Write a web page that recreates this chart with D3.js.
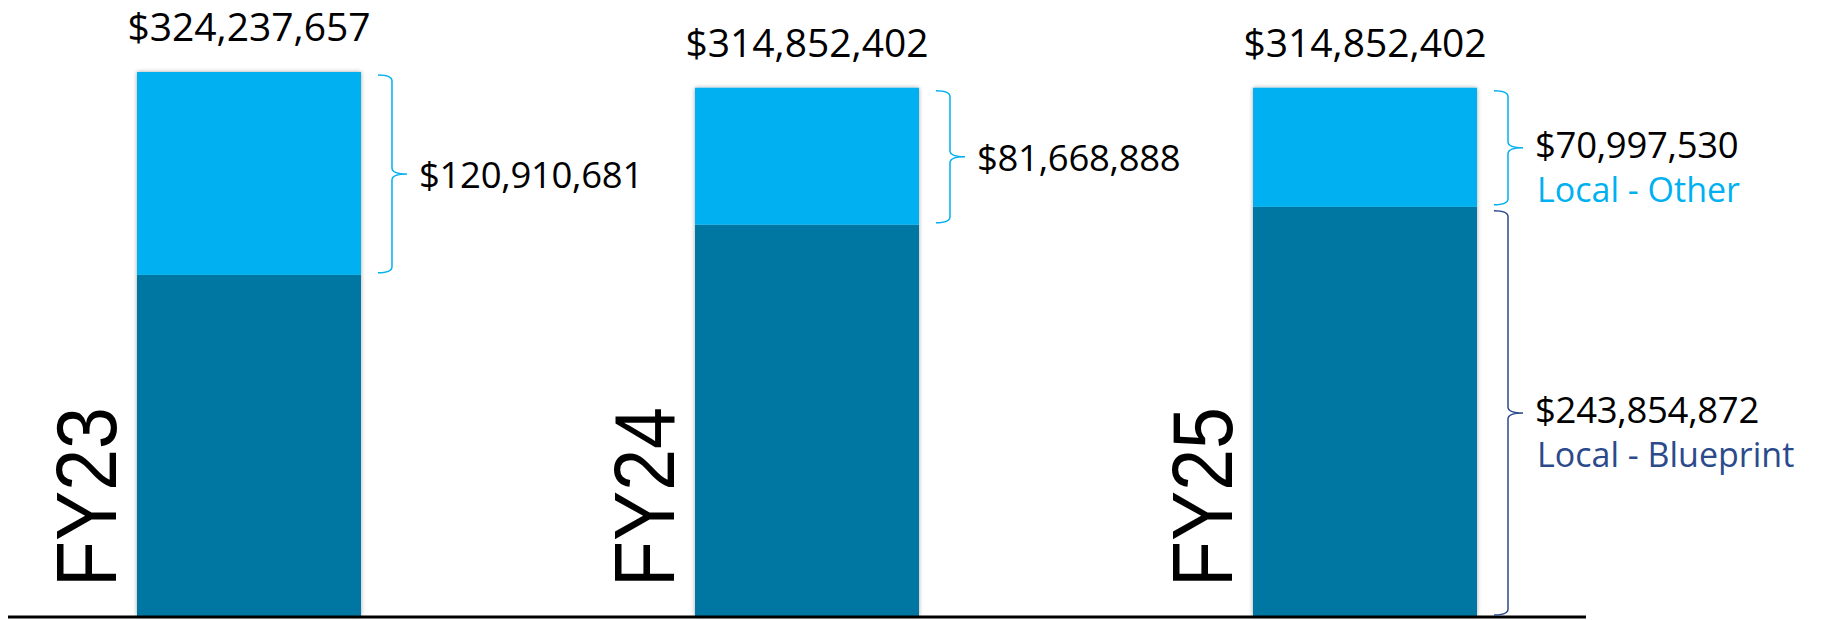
<!DOCTYPE html>
<html>
<head>
<meta charset="utf-8">
<script src="https://cdn.jsdelivr.net/npm/d3@7"></script>
<style>
  html, body { margin: 0; padding: 0; background: #ffffff; }
  svg { display: block; }
</style>
</head>
<body>
<svg id="chart" width="1821" height="620"></svg>
<script>
// ---- data ----
const categories = ["FY23", "FY24", "FY25"];
const blueprintValues = [203326976, 233183514, 243854872];
const otherValues = [120910681, 81668888, 70997530];
const totalValues = [324237657, 314852402, 314852402];
const seriesNames = ["Local - Blueprint", "Local - Other"];
// which categories show the Blueprint bracket / series names
const showBlueprintBracket = [false, false, true];
const showSeriesNames = [false, false, true];

// ---- style ----
const colorOther = "#00B0F0";
const colorBlueprint = "#0076A3";
const colorBlueprintText = "#2B4A8B";
const valueFont = "'Open Sans', 'Noto Sans', sans-serif";

const svg = d3.select("#chart");
const defs = svg.append("defs");
const f = defs.append("filter").attr("id", "shadow").attr("x", "-10%").attr("y", "-5%").attr("width", "120%").attr("height", "110%");
f.append("feDropShadow").attr("dx", 0).attr("dy", 0).attr("stdDeviation", 2).attr("flood-color", "#000").attr("flood-opacity", 0.35);

const x = d3.scaleBand()
  .domain(categories)
  .range([137, 1477])
  .paddingInner(0.5986)
  .paddingOuter(0);

const y = d3.scaleLinear()
  .domain([0, d3.max(totalValues)])
  .range([616, 72]);

const fmt = d3.format("$,");

const rows = categories.map((c, i) => ({
  cat: c,
  blueprint: blueprintValues[i],
  other: otherValues[i],
  total: totalValues[i],
  showBP: showBlueprintBracket[i],
  showNames: showSeriesNames[i]
}));

// ---- bars ----
const barG = svg.append("g").attr("filter", "url(#shadow)");
barG.selectAll("rect.bp").data(rows).join("rect")
  .attr("class", "bp")
  .attr("x", d => x(d.cat))
  .attr("width", x.bandwidth())
  .attr("y", d => y(d.blueprint))
  .attr("height", d => y(0) - y(d.blueprint))
  .attr("fill", colorBlueprint);
barG.selectAll("rect.ot").data(rows).join("rect")
  .attr("class", "ot")
  .attr("x", d => x(d.cat))
  .attr("width", x.bandwidth())
  .attr("y", d => y(d.blueprint + d.other))
  .attr("height", d => y(d.blueprint) - y(d.blueprint + d.other))
  .attr("fill", colorOther);

// ---- baseline axis ----
const xAxis = d3.axisBottom(x).tickSize(0).tickFormat("");
const axisG = svg.append("g").attr("transform", `translate(0,${y(0) + 1})`).call(xAxis);
axisG.select(".domain").remove();
axisG.append("line")
  .attr("x1", 8).attr("x2", 1586)
  .attr("y1", 0).attr("y2", 0)
  .attr("stroke", "#000").attr("stroke-width", 3);

// ---- category labels (rotated) ----
svg.selectAll("text.cat").data(rows).join("text")
  .attr("class", "cat")
  .attr("transform", d => `translate(${x(d.cat) - 21},587) rotate(-90)`)
  .attr("font-family", "'Liberation Sans', Arial, sans-serif")
  .attr("font-size", 86)
  .attr("textLength", 180)
  .attr("lengthAdjust", "spacingAndGlyphs")
  .attr("fill", "#000")
  .text(d => d.cat);

// ---- total labels ----
svg.selectAll("text.total").data(rows).join("text")
  .attr("class", "total")
  .attr("x", d => x(d.cat) + x.bandwidth() / 2)
  .attr("y", d => y(d.total) - 31)
  .attr("text-anchor", "middle")
  .attr("font-family", valueFont)
  .attr("font-size", 39)
  .attr("fill", "#000")
  .text(d => fmt(d.total));

// ---- brackets ----
function bracePath(x0, xv, xt, yTop, yBot) {
  const ym = (yTop + yBot) / 2;
  const r = 6;
  return `M${x0},${yTop} Q${xv},${yTop} ${xv},${yTop + r}` +
         ` L${xv},${ym - r} Q${xv},${ym} ${xt},${ym}` +
         ` Q${xv},${ym} ${xv},${ym + r}` +
         ` L${xv},${yBot - r} Q${xv},${yBot} ${x0},${yBot}`;
}

const braces = [];
rows.forEach(d => {
  const right = x(d.cat) + x.bandwidth();
  braces.push({
    right, yTop: y(d.blueprint + d.other) + 3, yBot: y(d.blueprint) - 2,
    color: colorOther, value: d.other, name: d.showNames ? seriesNames[1] : null,
    nameColor: colorOther
  });
  if (d.showBP) {
    braces.push({
      right, yTop: y(d.blueprint) + 4, yBot: y(0) - 1,
      color: colorBlueprintText, value: d.blueprint, name: d.showNames ? seriesNames[0] : null,
      nameColor: colorBlueprintText
    });
  }
});

svg.selectAll("path.brace").data(braces).join("path")
  .attr("class", "brace")
  .attr("d", b => bracePath(b.right + 17, b.right + 31, b.right + 46, b.yTop, b.yBot))
  .attr("fill", "none")
  .attr("stroke", b => b.color)
  .attr("stroke-width", 1.5);

svg.selectAll("text.val").data(braces).join("text")
  .attr("class", "val")
  .attr("x", b => b.right + 58)
  .attr("y", b => (b.yTop + b.yBot) / 2 + (b.name ? 10 : 14))
  .attr("font-family", valueFont)
  .attr("font-size", 36.5)
  .attr("letter-spacing", -0.3)
  .attr("fill", "#000")
  .text(b => fmt(b.value));

svg.selectAll("text.sname").data(braces.filter(b => b.name)).join("text")
  .attr("class", "sname")
  .attr("x", b => b.right + 60)
  .attr("y", b => (b.yTop + b.yBot) / 2 + 54)
  .attr("font-family", valueFont)
  .attr("font-size", 34)
  .attr("fill", b => b.nameColor)
  .text(b => b.name);
</script>
</body>
</html>
